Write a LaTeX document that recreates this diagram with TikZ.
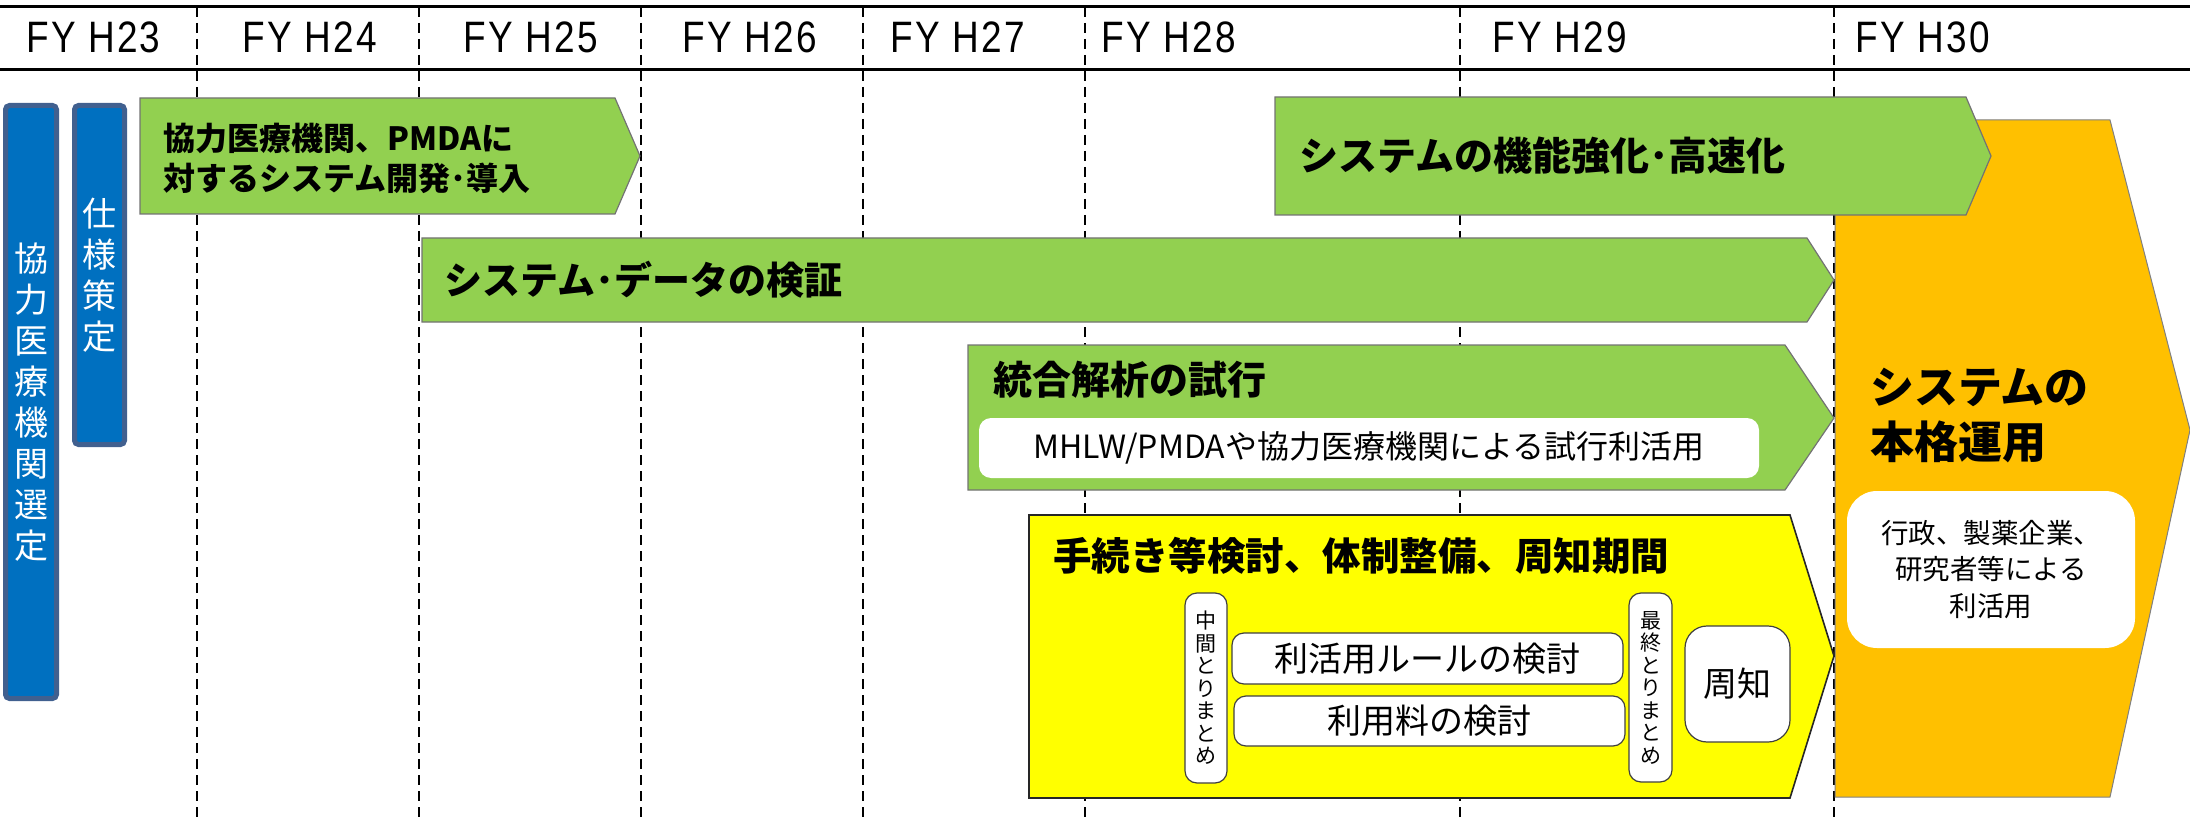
\documentclass[tikz,border=0pt]{standalone}
\usepackage{fontspec}
\newfontfamily\jp{Noto Sans CJK JP}
\newfontfamily\yr{Liberation Sans}[FakeStretch=0.84,LetterSpace=5]
\definecolor{pgreen}{HTML}{92D050}
\definecolor{pyellow}{HTML}{FFFF00}
\definecolor{porange}{HTML}{FFC000}
\definecolor{pblue}{HTML}{0070C0}
\definecolor{pblueedge}{HTML}{41608F}
\newcommand{\myfs}[2]{\fontsize{#1}{#2}\selectfont}
\tikzset{
  vdash/.style={line width=2pt, dash pattern=on 10pt off 6pt},
  hline/.style={line width=3.5pt},
  yrlab/.style={anchor=base, inner sep=0pt, font=\yr\myfs{44}{50}},
  bluebar/.style={fill=pblue, draw=pblueedge, line width=5pt, rounded corners=4pt, text=white, align=center, inner sep=0pt, font=\jp\myfs{34}{41}},
  garrow/.style={fill=pgreen, draw=black!55, line width=1.2pt},
  yarrow/.style={fill=pyellow, draw=black!85, line width=1.6pt},
  oarrow/.style={fill=porange, draw=black!50, line width=1pt},
  btitle/.style={anchor=west, align=left, inner sep=0pt},
  wbox/.style={fill=white, draw=black!75, line width=1.2pt, rounded corners=12pt, inner sep=0pt, align=center},
  wplain/.style={fill=white, draw=none, inner sep=0pt, align=center}
}
\begin{document}
\begin{tikzpicture}[x=1pt,y=-1pt]
\useasboundingbox (0,0) rectangle (2190,821);
% vertical dashed year separators
\foreach \xx in {197,419,641,863,1085,1460,1834} {
  \draw[vdash] (\xx,7) -- (\xx,821);
}
% header lines
\draw[hline] (0,6.5) -- (2190,6.5);
\draw[hline] (0,69.5) -- (2190,69.5);
% year labels
\node[yrlab] (y23) at (93.5,53) {FY H23};
\node[yrlab] (y24) at (310,53) {FY H24};
\node[yrlab] (y25) at (531,53) {FY H25};
\node[yrlab] (y26) at (750,53) {FY H26};
\node[yrlab] (y27) at (958,53) {FY H27};
\node[yrlab] (y28) at (1169,53) {FY H28};
\node[yrlab] (y29) at (1560,53) {FY H29};
\node[yrlab] (y30) at (1923,53) {FY H30};
% blue bars
\node[bluebar, minimum width=51pt, minimum height=593pt] (sel) at (31,402) {協\\力\\医\\療\\機\\関\\選\\定};
\node[bluebar, minimum width=50pt, minimum height=339pt] (spec) at (99.5,275) {仕\\様\\策\\定};
% orange final shape
\draw[oarrow] (1835,120) -- (2110,120) -- (2190,430) -- (2110,797) -- (1835,797) -- cycle;
% green arrow 1
\draw[garrow] (140,98) -- (615,98) -- (640,156) -- (615,214) -- (140,214) -- cycle;
\node[btitle, font=\jp\bfseries\myfs{32}{40}] (dev) at (163,158) {協力医療機関、PMDAに\\対するシステム開発･導入};
% green arrow 4
\draw[garrow] (1275,97) -- (1966,97) -- (1991,156) -- (1966,215) -- (1275,215) -- cycle;
\node[btitle, font=\jp\bfseries\myfs{39}{46}] (enh) at (1299,156) {システムの機能強化･高速化};
% green arrow 3
\draw[garrow] (422,238) -- (1807,238) -- (1834,280) -- (1807,322) -- (422,322) -- cycle;
\node[btitle, font=\jp\bfseries\myfs{38}{46}] (ver) at (444,280) {システム･データの検証};
% green arrow 5
\draw[garrow] (968,345) -- (1785,345) -- (1834,418) -- (1785,490) -- (968,490) -- cycle;
\node[btitle, font=\jp\bfseries\myfs{39}{46}] (ana) at (993,380) {統合解析の試行};
\node[wplain, rounded corners=12pt, minimum width=780pt, minimum height=60pt, font=\jp\myfs{32}{38}] (trial) at (1369,448) {MHLW/PMDAや協力医療機関による試行利活用};
% yellow arrow
\draw[yarrow] (1029,515) -- (1790,515) -- (1834,656) -- (1790,798) -- (1029,798) -- cycle;
\node[btitle, font=\jp\bfseries\myfs{38.5}{46}] (proc) at (1053,556) {手続き等検討、体制整備、周知期間};
\node[wbox, minimum width=42pt, minimum height=190pt, font=\jp\myfs{21}{22.5}] (mid) at (1206,688) {中\\間\\と\\り\\ま\\と\\め};
\node[wbox, minimum width=391pt, minimum height=51pt, font=\jp\myfs{34}{40}] (rule) at (1427.5,658.5) {利活用ルールの検討};
\node[wbox, minimum width=391pt, minimum height=50pt, font=\jp\myfs{34}{40}] (fee) at (1429.5,721) {利用料の検討};
\node[wbox, minimum width=43pt, minimum height=189pt, font=\jp\myfs{21}{22.5}] (fin) at (1650.5,687.5) {最\\終\\と\\り\\ま\\と\\め};
\node[wbox, rounded corners=22pt, minimum width=105pt, minimum height=116pt, font=\jp\myfs{34}{40}] (ann) at (1737.5,684) {周知};
% orange contents
\node[btitle, font=\jp\bfseries\myfs{44}{55}] (op) at (1870,416) {システムの\\本格運用};
\node[wplain, rounded corners=30pt, minimum width=288pt, minimum height=157pt, font=\jp\myfs{27.5}{36.5}] (use) at (1991,569.5) {行政、製薬企業、\\研究者等による\\利活用};
\end{tikzpicture}
\end{document}
